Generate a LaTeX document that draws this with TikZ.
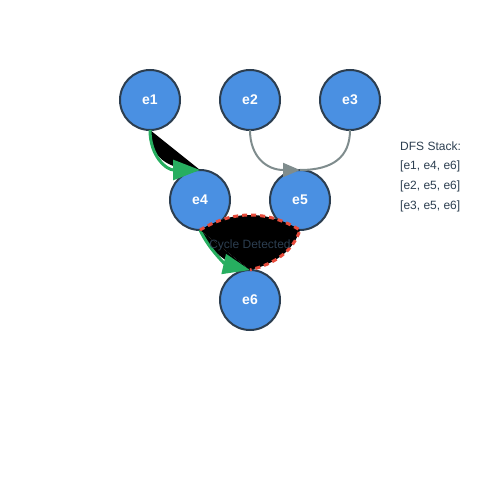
\documentclass[tikz,border=0pt]{standalone}
\usepackage{fontspec}
\setmainfont{Liberation Sans}
\usepackage{tikz}
\usetikzlibrary{arrows.meta,calc}

\definecolor{nodeblue}{HTML}{4A90E2}
\definecolor{darkslate}{HTML}{2C3E50}
\definecolor{pathgreen}{HTML}{27AE60}
\definecolor{edgegray}{HTML}{7F8C8D}
\definecolor{cyclered}{HTML}{E74C3C}

\begin{document}
\begin{tikzpicture}[x=1pt,y=-1pt,
  event/.style={circle,draw=darkslate,line width=2pt,fill=nodeblue,minimum size=60pt,inner sep=0pt,outer sep=0pt,
    text=white,font=\fontsize{14}{16}\selectfont\bfseries},
  visited/.style={draw=pathgreen,line width=3pt,-{Triangle[length=27pt,width=20pt]}},
  plain/.style={draw=edgegray,line width=2pt},
  stackline/.style={anchor=west,text=darkslate,font=\fontsize{12}{14}\selectfont,inner sep=0pt}]

\useasboundingbox (0,0) rectangle (500,500);

\node[event] (e1) at (150,100) {e1};
\node[event] (e2) at (250,100) {e2};
\node[event] (e3) at (350,100) {e3};
\node[event] (e4) at (200,200) {e4};
\node[event] (e5) at (300,200) {e5};
\node[event] (e6) at (250,300) {e6};

% unfilled paths spill black
\fill[black] (e1.south) .. controls +(0,26.7) and +(-33.3,0) .. (e4.north) -- cycle;
\draw[visited] (e1.south) .. controls +(0,26.7) and +(-33.3,0) .. (e4.north);
\draw[plain,-{Triangle[length=17pt,width=14pt]}] (e2.south) .. controls +(0,26.7) and +(-33.3,0) .. (e5.north);
\draw[plain] (e3.south) .. controls +(0,26.7) and +(33.3,0) .. (e5.north);

% cycle e4 -> e5 -> e6
\fill[black] (e4.south) .. controls +(10,21.3) and +(-23.3,-5.3) .. (e6.north) -- cycle;
\draw[visited] (e4.south) .. controls +(10,21.3) and +(-23.3,-5.3) .. (e6.north);
\draw[cyclered,line width=3pt,dash pattern=on 5pt off 4pt,fill=black]
  (e4.south) .. controls +(33.3,-20) and +(-33.3,-20) .. (e5.south)
  .. controls +(-6.7,20) and +(26.7,-6.7) .. (e6.north);
\node[text=darkslate,font=\fontsize{12}{14}\selectfont] (cyc) at (250,245) {Cycle Detected};

\node[stackline] (s0) at (400,146) {DFS Stack:};
\node[stackline] (s1) at (400,166) {[e1, e4, e6]};
\node[stackline] (s2) at (400,186) {[e2, e5, e6]};
\node[stackline] (s3) at (400,206) {[e3, e5, e6]};

\end{tikzpicture}
\end{document}
